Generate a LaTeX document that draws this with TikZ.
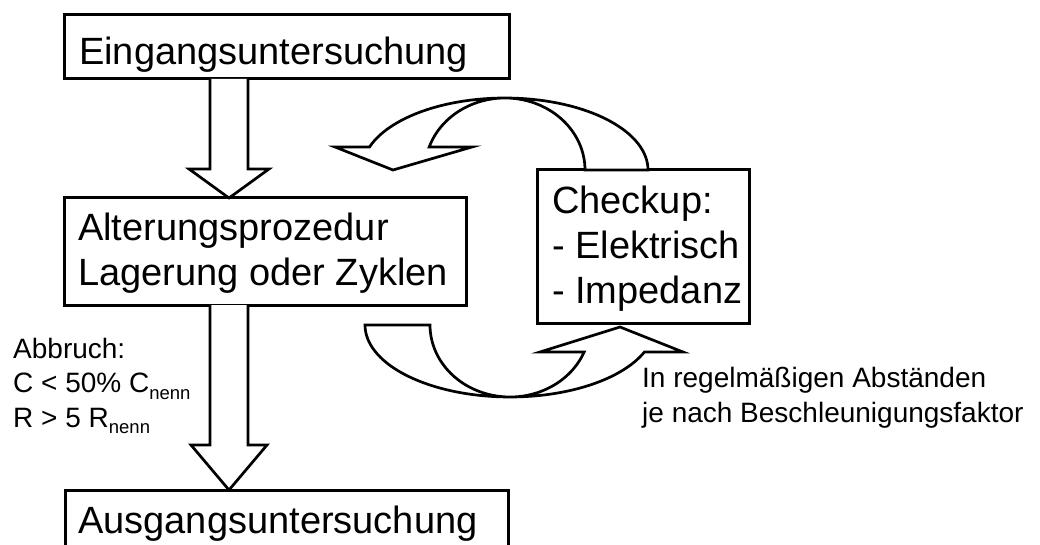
\documentclass[tikz,border=0pt]{standalone}
\usepackage{fontspec}
\setmainfont{Liberation Sans}
\usetikzlibrary{calc}
\newcommand{\sbs}[1]{\raisebox{-6.5pt}{\fontsize{18.5}{18.5}\selectfont #1}}
\begin{document}
\begin{tikzpicture}[x=1pt,y=-1pt,
  box/.style={draw, line width=3pt, inner sep=0pt, outer sep=0pt},
  big/.style={font=\fontsize{38}{45}\selectfont, inner sep=0pt, align=left, anchor=base west},
  small/.style={font=\fontsize{28}{34.5}\selectfont, inner sep=0pt, align=left, anchor=base west},
  blk/.style={draw, line width=2.7pt, fill=white, line join=miter}]
\useasboundingbox (0,0) rectangle (1040,545);
\clip (0,0) rectangle (1040,545);
% boxes
\node[box, minimum width=445, minimum height=64] (b1) at (286.5,47) {};
\node[box, minimum width=402, minimum height=107] (b2) at (265,251.5) {};
\node[box, minimum width=443, minimum height=90] (b3) at (286.5,535) {};
\node[box, minimum width=212, minimum height=153] (ck) at (643,246.5) {};
% texts (anchor = baseline of the last line)
\node[big] (t1) at (79,65) {Eingangsuntersuchung};
\node[big] (t2) at (78,285) {Alterungsprozedur\\Lagerung oder Zyklen};
\node[big] (t3) at (78,533) {Ausgangsuntersuchung};
\node[big] (t4) at (552,303) {Checkup:\\- Elektrisch\\- Impedanz};
\node[small] (t5) at (13,427) {Abbruch:\\C < 50\% C\sbs{nenn}\\R > 5 R\sbs{nenn}};
\node[small] (t6) at (642,422) {In regelmäßigen Abständen\\je nach Beschleunigungsfaktor};
% block arrow 1
\path (b1.south) ++(-57.5,0) coordinate (a1s);
\path (b2.north) ++(-36,0) coordinate (h1);
\draw[blk] ($(a1s)+(-19,0)$) -- ($(h1)+(-19,-29)$) -- ($(h1)+(-40,-29)$) -- (h1)
  -- ($(h1)+(40,-29)$) -- ($(h1)+(19,-29)$) -- ($(a1s)+(19,0)$);
% block arrow 2
\path (b2.south) ++(-36,0) coordinate (a2s);
\path (b3.north) ++(-57.5,0) coordinate (h2);
\draw[blk] ($(a2s)+(-19,0)$) -- ($(h2)+(-19,-45)$) -- ($(h2)+(-38,-45)$) -- (h2)
  -- ($(h2)+(38,-45)$) -- ($(h2)+(19,-45)$) -- ($(a2s)+(19,0)$);
% curved arrow top
\path (ck.north west) ++(-32,0) coordinate (c1);
\begin{scope}[shift={(c1)}]
\draw[blk] plot[domain=0:161.4,samples=60] ({143*cos(\x)},{-72*sin(\x)})
  -- (-170,-23) -- (-112,0) -- (-33,-23)
  -- plot[domain=161.4:0,samples=60] ({80*cos(\x)},{-72*sin(\x)}) -- cycle;
\end{scope}
% curved arrow bottom
\path (ck.south west) ++(-27,2) coordinate (c2);
\begin{scope}[shift={(c2)}]
\draw[blk] plot[domain=180:338,samples=60] ({145*cos(\x)},{-72*sin(\x)})
  -- (173,27) -- (110,2) -- (30,27)
  -- plot[domain=338:180,samples=60] ({80*cos(\x)},{-72*sin(\x)}) -- cycle;
\end{scope}
\end{tikzpicture}
\end{document}
